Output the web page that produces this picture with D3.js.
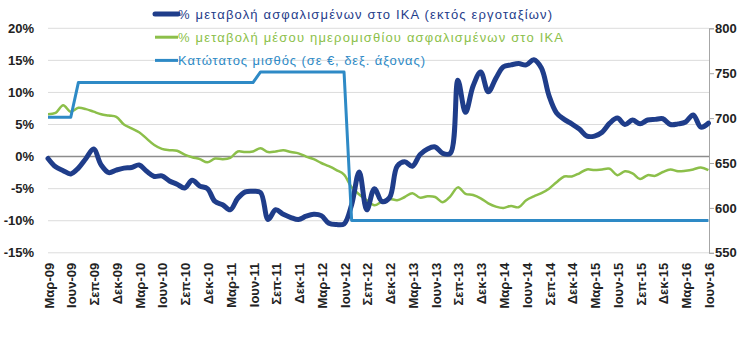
<!DOCTYPE html>
<html lang="el">
<head>
    <meta charset="utf-8">
    <title>ΙΚΑ: ασφαλισμένοι, ημερομίσθια και κατώτατος μισθός</title>
    <script src="https://cdn.jsdelivr.net/npm/d3@7"></script>
    <style>
        body { margin: 0; background: #fff; }
        svg { font-family: "Liberation Sans", Arial, sans-serif; }
        .tick-label { font-size: 13px; font-weight: bold; fill: #222; }
        .legend text { font-size: 13px; }
    </style>
</head>
<body>
<script>
    // monthly categories, Mar-09 .. Jun-16
    const months = [
        "Μαρ-09","Απρ-09","Μαϊ-09","Ιουν-09","Ιουλ-09","Αυγ-09","Σεπ-09","Οκτ-09","Νοε-09","Δεκ-09",
        "Ιαν-10","Φεβ-10","Μαρ-10","Απρ-10","Μαϊ-10","Ιουν-10","Ιουλ-10","Αυγ-10","Σεπ-10","Οκτ-10","Νοε-10","Δεκ-10",
        "Ιαν-11","Φεβ-11","Μαρ-11","Απρ-11","Μαϊ-11","Ιουν-11","Ιουλ-11","Αυγ-11","Σεπ-11","Οκτ-11","Νοε-11","Δεκ-11",
        "Ιαν-12","Φεβ-12","Μαρ-12","Απρ-12","Μαϊ-12","Ιουν-12","Ιουλ-12","Αυγ-12","Σεπ-12","Οκτ-12","Νοε-12","Δεκ-12",
        "Ιαν-13","Φεβ-13","Μαρ-13","Απρ-13","Μαϊ-13","Ιουν-13","Ιουλ-13","Αυγ-13","Σεπ-13","Οκτ-13","Νοε-13","Δεκ-13",
        "Ιαν-14","Φεβ-14","Μαρ-14","Απρ-14","Μαϊ-14","Ιουν-14","Ιουλ-14","Αυγ-14","Σεπ-14","Οκτ-14","Νοε-14","Δεκ-14",
        "Ιαν-15","Φεβ-15","Μαρ-15","Απρ-15","Μαϊ-15","Ιουν-15","Ιουλ-15","Αυγ-15","Σεπ-15","Οκτ-15","Νοε-15","Δεκ-15",
        "Ιαν-16","Φεβ-16","Μαρ-16","Απρ-16","Μαϊ-16","Ιουν-16"
    ];

    // only these are written under the axis
    const xLabels = [
        "Μαρ-09","Ιουν-09","Σεπ-09","Δεκ-09","Μαρ-10","Ιουν-10","Σεπ-10","Δεκ-10",
        "Μαρ-11","Ιουν-11","Σεπ-11","Δεκ-11","Μαρ-12","Ιουν-12","Σεπ-12","Δεκ-12",
        "Μαρ-13","Ιουν-13","Σεπ-13","Δεκ-13","Μαρ-14","Ιουν-14","Σεπ-14","Δεκ-14",
        "Μαρ-15","Ιουν-15","Σεπ-15","Δεκ-15","Μαρ-16","Ιουν-16"
    ];

    // % change of insured in IKA (excl. construction)
    const insured = [
        -0.3, -1.6, -2.2, -2.7, -1.8, -0.3, 1.2, -1.3, -2.5, -2.1,
        -1.8, -1.7, -1.3, -2.3, -3.1, -3.0, -3.8, -4.3, -4.9, -3.7, -4.6, -5.0,
        -7.0, -7.5, -8.3, -6.5, -5.5, -5.4, -5.6, -9.8, -8.3, -9.0, -9.5, -9.8,
        -9.3, -9.0, -9.2, -10.4, -10.6, -10.5, -7.5, -2.4, -8.3, -5.0, -7.0, -6.4,
        -1.5, -0.8, -1.5, 0.3, 1.2, 1.5, 0.5, 0.5, 11.9, 6.9, 11.0, 13.2,
        10.1, 12.2, 14.0, 14.3, 14.5, 14.3, 15.1, 13.8, 9.5, 6.8, 5.8, 5.1,
        4.3, 3.2, 3.2, 3.8, 5.2, 6.0, 5.0, 5.7, 5.1, 5.7, 5.8, 5.9,
        5.0, 5.1, 5.4, 6.5, 4.6, 5.2
    ];

    // % change of average daily wage of insured in IKA
    const dailyWage = [
        6.6, 6.8, 8.0, 7.0, 7.6, 7.4, 7.0, 6.6, 6.4, 6.2,
        5.0, 4.4, 3.8, 2.8, 1.8, 1.2, 1.0, 0.9, 0.3, -0.1, -0.4, -0.9,
        -0.3, -0.4, -0.2, 0.8, 0.7, 0.8, 1.3, 0.7, 0.8, 1.0, 0.7, 0.5,
        0.0, -0.4, -1.0, -1.5, -2.1, -2.8, -4.8, -5.9, -6.8, -7.6, -7.0, -6.6,
        -6.8, -6.3, -5.7, -6.4, -6.2, -6.3, -7.1, -6.2, -4.8, -5.8, -6.0, -6.5,
        -7.3, -7.8, -8.0, -7.7, -7.9, -6.8, -6.2, -5.7, -5.0, -4.0, -3.1, -3.1,
        -2.6, -2.0, -2.1, -2.0, -1.9, -2.9, -2.3, -2.6, -3.5, -2.9, -3.0, -2.4,
        -2.0, -2.3, -2.2, -2.0, -1.7, -2.1
    ];

    // minimum wage in €, right axis
    const minWage = [
        701, 701, 701, 701, 739.56, 739.56, 739.56, 739.56, 739.56, 739.56,
        739.56, 739.56, 739.56, 739.56, 739.56, 739.56, 739.56, 739.56, 739.56, 739.56, 739.56, 739.56,
        739.56, 739.56, 739.56, 739.56, 739.56, 739.56, 751.39, 751.39, 751.39, 751.39, 751.39, 751.39,
        751.39, 751.39, 751.39, 751.39, 751.39, 751.39, 586.08, 586.08, 586.08, 586.08, 586.08, 586.08,
        586.08, 586.08, 586.08, 586.08, 586.08, 586.08, 586.08, 586.08, 586.08, 586.08, 586.08, 586.08,
        586.08, 586.08, 586.08, 586.08, 586.08, 586.08, 586.08, 586.08, 586.08, 586.08, 586.08, 586.08,
        586.08, 586.08, 586.08, 586.08, 586.08, 586.08, 586.08, 586.08, 586.08, 586.08, 586.08, 586.08,
        586.08, 586.08, 586.08, 586.08, 586.08, 586.08
    ];

    const leftTicks = [-15, -10, -5, 0, 5, 10, 15, 20];
    const rightTicks = [550, 600, 650, 700, 750, 800];

    const seriesInfo = [
        {name: "% μεταβολή ασφαλισμένων στο ΙΚΑ (εκτός εργοταξίων)", color: "#1f3d8a", width: 5, textLen: 374},
        {name: "% μεταβολή μέσου ημερομισθίου ασφαλισμένων στο ΙΚΑ", color: "#8cbf4a", width: 2.5, textLen: 385},
        {name: "Κατώτατος μισθός (σε €, δεξ. άξονας)", color: "#2e8ac6", width: 3, textLen: 247}
    ];

    const dim = {
        width: 748,
        height: 354,
        margin: {top: 28.3, right: 39, bottom: 101.2, left: 48}
    };
    const plotRight = dim.width - dim.margin.right;   // 709
    const plotBottom = dim.height - dim.margin.bottom; // 252.8

    const scale = {
        x: d3.scalePoint().domain(months).range([dim.margin.left, plotRight - 0.6]),
        y: d3.scaleLinear().domain([-15, 20]).range([plotBottom, dim.margin.top]),
        y2: d3.scaleLinear().domain([550, 800]).range([plotBottom, dim.margin.top])
    };

    const svg = d3.select("body")
                  .append("svg")
                  .attr("width", dim.width)
                  .attr("height", dim.height);

    // horizontal gridlines
    svg.append("g")
       .selectAll("line")
       .data(leftTicks.filter(d => d !== 0))
       .join("line")
       .attr("x1", dim.margin.left)
       .attr("x2", plotRight)
       .attr("y1", d => scale.y(d))
       .attr("y2", d => scale.y(d))
       .attr("stroke", "#dcdcdc")
       .attr("stroke-width", 1);

    // left labels
    svg.append("g")
       .selectAll("text")
       .data(leftTicks)
       .join("text")
       .attr("class", "tick-label")
       .attr("x", 34)
       .attr("y", d => scale.y(d))
       .attr("dy", "0.36em")
       .attr("text-anchor", "end")
       .text(d => d + "%");

    // right axis
    const yAxisRight = d3.axisRight(scale.y2)
                         .tickValues(rightTicks)
                         .tickSize(5)
                         .tickPadding(2)
                         .tickFormat(d3.format("d"));
    const gRight = svg.append("g")
                      .attr("transform", `translate(${plotRight},0)`)
                      .call(yAxisRight);
    gRight.select(".domain").attr("stroke", "#a6a6a6");
    gRight.selectAll(".tick line").attr("stroke", "#a6a6a6");
    gRight.selectAll(".tick text")
          .attr("class", "tick-label")
          .attr("x", 6);

    // category axis sits on 0%
    svg.append("line")
       .attr("x1", dim.margin.left)
       .attr("x2", plotRight)
       .attr("y1", scale.y(0))
       .attr("y2", scale.y(0))
       .attr("stroke", "#8c8c8c")
       .attr("stroke-width", 1.5);

    svg.append("g")
       .selectAll("text")
       .data(xLabels)
       .join("text")
       .attr("class", "tick-label")
       .attr("text-anchor", "end")
       .attr("dy", "0.35em")
       .attr("transform", d => `translate(${scale.x(d) + 1},${plotBottom + 10}) rotate(-90)`)
       .text(d => d);

    // lines
    const smooth = d3.line()
                     .x((d, i) => scale.x(months[i]))
                     .y(d => scale.y(d))
                     .curve(d3.curveCatmullRom.alpha(0.5));

    const stepLine = d3.line()
                       .x((d, i) => scale.x(months[i]))
                       .y(d => scale.y2(d));

    svg.append("path")
       .attr("d", smooth(dailyWage))
       .attr("fill", "none")
       .attr("stroke", seriesInfo[1].color)
       .attr("stroke-width", seriesInfo[1].width)
       .attr("stroke-linejoin", "round");

    svg.append("path")
       .attr("d", smooth(insured))
       .attr("fill", "none")
       .attr("stroke", seriesInfo[0].color)
       .attr("stroke-width", seriesInfo[0].width)
       .attr("stroke-linejoin", "round")
       .attr("stroke-linecap", "round");

    svg.append("path")
       .attr("d", stepLine(minWage))
       .attr("fill", "none")
       .attr("stroke", seriesInfo[2].color)
       .attr("stroke-width", seriesInfo[2].width)
       .attr("stroke-linejoin", "round");

    // legend, top middle
    const legend = svg.append("g")
                      .attr("class", "legend")
                      .attr("transform", "translate(155,0)");

    const item = legend.selectAll("g")
                       .data(seriesInfo)
                       .join("g")
                       .attr("transform", (d, i) => `translate(0,${14 + i * 23.2})`);

    item.append("line")
        .attr("x1", 0)
        .attr("x2", 23)
        .attr("stroke", d => d.color)
        .attr("stroke-width", (d, i) => i === 0 ? 5 : 3)
        .attr("stroke-linecap", (d, i) => i === 0 ? "round" : "butt");

    item.append("text")
        .attr("x", 23)
        .attr("y", 4.6)
        .attr("fill", d => d.color)
        .attr("textLength", d => d.textLen)
        .attr("lengthAdjust", "spacing")
        .text(d => d.name);
</script>
</body>
</html>
